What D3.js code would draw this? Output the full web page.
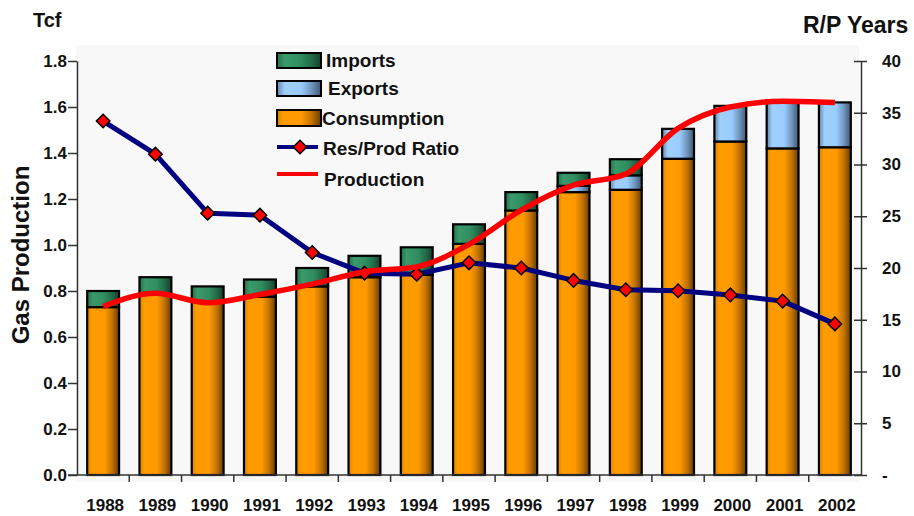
<!DOCTYPE html>
<html>
<head>
<meta charset="utf-8">
<script src="https://cdn.jsdelivr.net/npm/d3@7"></script>
<style>
  html, body { margin: 0; padding: 0; background: #ffffff; }
  svg { display: block; font-family: "Liberation Sans", Arial, sans-serif; }
</style>
</head>
<body>
<svg id="chart" width="914" height="516"></svg>
<script>
// ---- data ----
const years = ["1988","1989","1990","1991","1992","1993","1994","1995","1996","1997","1998","1999","2000","2001","2002"];
const consumption = [0.73, 0.79, 0.755, 0.775, 0.82, 0.86, 0.87, 1.005, 1.15, 1.23, 1.24, 1.375, 1.45, 1.42, 1.425];
const exportsV    = [0, 0, 0, 0, 0, 0, 0, 0, 0, 0.027, 0.063, 0.13, 0.155, 0.21, 0.195];
const importsV    = [0.07, 0.07, 0.065, 0.075, 0.08, 0.093, 0.12, 0.085, 0.08, 0.057, 0.07, 0, 0, 0, 0];
const production  = [0.732, 0.79, 0.749, 0.785, 0.83, 0.884, 0.905, 1.003, 1.152, 1.26, 1.309, 1.507, 1.60, 1.625, 1.62];
const rpRatio     = [34.2, 31.0, 25.3, 25.1, 21.5, 19.5, 19.4, 20.5, 20.0, 18.8, 17.9, 17.8, 17.4, 16.8, 14.6];
const leftTicks   = [0, 0.2, 0.4, 0.6, 0.8, 1.0, 1.2, 1.4, 1.6, 1.8];
const rightTicks  = [0, 5, 10, 15, 20, 25, 30, 35, 40];
const legendLabels = ["Imports", "Exports", "Consumption", "Res/Prod Ratio", "Production"];

// ---- layout ----
const svg = d3.select("#chart");
const xL = 77, xR = 861, yB = 475, yT = 61;

const x = d3.scaleBand().domain(years).range([xL, xR]).paddingInner(0.39).paddingOuter(0.195);
const yLeft = d3.scaleLinear().domain([0, 1.8]).range([yB, yT]);
const yRight = d3.scaleLinear().domain([0, 40]).range([yB, yT]);

// gradients
const defs = svg.append("defs");
function grad(id, stops) {
  const g = defs.append("linearGradient").attr("id", id)
    .attr("x1", "0%").attr("x2", "100%").attr("y1", "0%").attr("y2", "0%");
  stops.forEach(s => g.append("stop").attr("offset", s[0]).attr("stop-color", s[1]));
}
grad("gOrange", [["0%", "#d98400"], ["15%", "#ff9c00"], ["55%", "#ff9900"], ["78%", "#c47400"], ["100%", "#653c00"]]);
grad("gGreen",  [["0%", "#256f4a"], ["18%", "#3a9a6a"], ["55%", "#2f8c5f"], ["78%", "#236b48"], ["100%", "#15402b"]]);
grad("gBlue",   [["0%", "#5f86b0"], ["18%", "#a0d0fa"], ["55%", "#99ccff"], ["78%", "#7196bd"], ["100%", "#3d5874"]]);

// plot background
svg.append("rect").attr("x", 76).attr("y", 45).attr("width", 783).attr("height", 437).attr("fill", "#f8f8f8");

// stacked bars
const rows = years.map((yr, i) => ({ year: yr, consumption: consumption[i], exports: exportsV[i], imports: importsV[i] }));
const keys = ["consumption", "exports", "imports"];
const fills = { consumption: "url(#gOrange)", exports: "url(#gBlue)", imports: "url(#gGreen)" };
const stacked = d3.stack().keys(keys)(rows);

svg.append("g").selectAll("g").data(stacked).join("g")
  .attr("fill", d => fills[d.key])
  .selectAll("rect").data(d => d.filter(s => s[1] - s[0] > 0)).join("rect")
  .attr("x", d => x(d.data.year))
  .attr("width", x.bandwidth())
  .attr("y", d => yLeft(d[1]))
  .attr("height", d => yLeft(d[0]) - yLeft(d[1]))
  .attr("stroke", "#000").attr("stroke-width", 2.2);

// axes
const axisColor = "#333";
const gL = svg.append("g").attr("transform", `translate(${xL},0)`)
  .call(d3.axisLeft(yLeft).tickValues(leftTicks).tickFormat(d3.format(".1f")).tickSize(9).tickSizeOuter(0));
const gR = svg.append("g").attr("transform", `translate(${xR},0)`)
  .call(d3.axisRight(yRight).tickValues(rightTicks).tickFormat(d => d === 0 ? "-" : d).tickSize(6).tickSizeOuter(0));
gR.selectAll(".tick line").attr("x1", -7);
gR.selectAll(".tick text").attr("x", 21).attr("text-anchor", "start");

// bottom axis: line + boundary ticks
svg.append("line").attr("x1", 68).attr("x2", xR).attr("y1", yB).attr("y2", yB).attr("stroke", axisColor).attr("stroke-width", 1.5);
const boundaries = years.slice(1).map(yr => x(yr) - x.step() * x.paddingInner() / 2);
svg.append("g").selectAll("line").data(boundaries).join("line")
  .attr("x1", d => d).attr("x2", d => d).attr("y1", yB).attr("y2", yB + 7)
  .attr("stroke", axisColor).attr("stroke-width", 1.5);
svg.append("g").selectAll("text").data(years).join("text")
  .attr("x", d => x(d) + x.bandwidth() / 2 + 2)
  .attr("y", 511)
  .attr("text-anchor", "middle")
  .attr("font-size", 17).attr("font-weight", "bold").attr("fill", "#111")
  .text(d => d);

[gL, gR].forEach(g => {
  g.select(".domain").attr("stroke", axisColor).attr("stroke-width", 1.5);
  g.selectAll(".tick line").attr("stroke", axisColor).attr("stroke-width", 1.5);
  g.selectAll(".tick text").attr("font-size", 17).attr("font-weight", "bold").attr("fill", "#111")
    .attr("font-family", "Liberation Sans, Arial, sans-serif");
});
gL.selectAll(".tick text").attr("x", -10);

// Res/Prod ratio line (right axis)
const cx = yr => x(yr) + x.bandwidth() / 2;
const rpLine = d3.line().x((d, i) => cx(years[i])).y(d => yRight(d));
svg.append("path").datum(rpRatio).attr("d", rpLine)
  .attr("fill", "none").attr("stroke", "#000080").attr("stroke-width", 5).attr("stroke-linejoin", "round");
const diamond = d3.symbol().type(d3.symbolSquare).size(92);
svg.append("g").selectAll("path").data(rpRatio).join("path")
  .attr("d", diamond)
  .attr("transform", (d, i) => `translate(${cx(years[i])},${yRight(d)}) rotate(45)`)
  .attr("fill", "#ff0000").attr("stroke", "#000").attr("stroke-width", 1.5);

// Production line (left axis, smoothed)
const prodLine = d3.line().x((d, i) => cx(years[i])).y(d => yLeft(d)).curve(d3.curveMonotoneX);
svg.append("path").datum(production).attr("d", prodLine)
  .attr("fill", "none").attr("stroke", "#ff0000").attr("stroke-width", 5.5).attr("stroke-linecap", "butt");

// titles
svg.append("text").attr("x", 33).attr("y", 27).attr("font-size", 20).attr("font-weight", "bold").attr("fill", "#111").text("Tcf");
svg.append("text").attr("x", 803).attr("y", 33).attr("font-size", 23).attr("font-weight", "bold").attr("fill", "#111").text("R/P Years");
svg.append("text").attr("transform", "translate(29,255) rotate(-90)").attr("text-anchor", "middle")
  .attr("font-size", 24).attr("font-weight", "bold").attr("fill", "#111").text("Gas Production");

// legend
const lg = svg.append("g").attr("font-size", 19).attr("font-weight", "bold").attr("fill", "#111");
const swatches = [
  { fill: "url(#gGreen)", y: 53, h: 15, tx: 326, ty: 67 },
  { fill: "url(#gBlue)", y: 81, h: 15, tx: 328, ty: 95 },
  { fill: "url(#gOrange)", y: 110, h: 16, tx: 322, ty: 125 }
];
swatches.forEach((s, i) => {
  lg.append("rect").attr("x", 277).attr("y", s.y).attr("width", 44).attr("height", s.h)
    .attr("fill", s.fill).attr("stroke", "#000").attr("stroke-width", 2);
  lg.append("text").attr("x", s.tx).attr("y", s.ty).text(legendLabels[i]);
});
lg.append("line").attr("x1", 277).attr("x2", 318).attr("y1", 147).attr("y2", 147).attr("stroke", "#000080").attr("stroke-width", 4);
lg.append("path").attr("d", diamond).attr("transform", "translate(300,147) rotate(45)")
  .attr("fill", "#ff0000").attr("stroke", "#000").attr("stroke-width", 1.5);
lg.append("text").attr("x", 323).attr("y", 155).text(legendLabels[3]);
lg.append("line").attr("x1", 277).attr("x2", 318).attr("y1", 174).attr("y2", 174).attr("stroke", "#ff0000").attr("stroke-width", 4);
lg.append("text").attr("x", 324).attr("y", 186).text(legendLabels[4]);
</script>
</body>
</html>
